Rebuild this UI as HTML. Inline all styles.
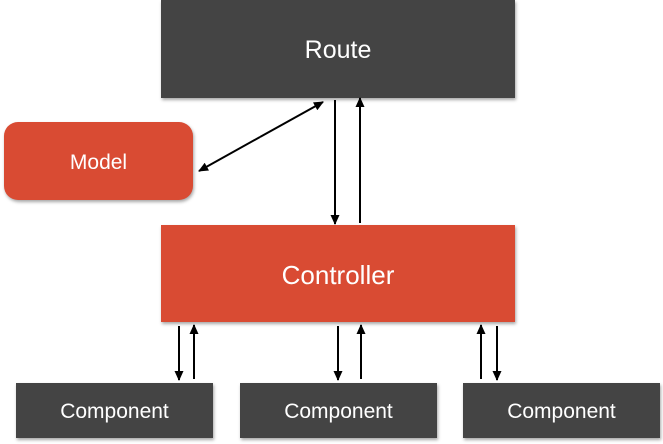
<!DOCTYPE html>
<html><head><style>
body{margin:0;width:663px;height:444px;background:#fff;overflow:hidden;position:relative;font-family:"Liberation Sans",sans-serif}
.b{position:absolute;color:#fff;display:flex;align-items:center;justify-content:center;box-shadow:1px 2px 3px rgba(0,0,0,.35);padding-top:3px;box-sizing:border-box}
.d{background:#444}.r{background:#d94b33}
</style></head><body>
<div class="b d" style="left:161px;top:0;width:354px;height:98px;font-size:25px">Route</div>
<div class="b r" style="left:4px;top:122px;width:189px;height:78px;border-radius:14px;font-size:21px">Model</div>
<div class="b r" style="left:161px;top:225px;width:354px;height:97px;font-size:26px">Controller</div>
<div class="b d" style="left:16px;top:383px;width:197px;height:55px;font-size:21px">Component</div>
<div class="b d" style="left:240px;top:383px;width:197px;height:55px;font-size:21px">Component</div>
<div class="b d" style="left:463px;top:383px;width:197px;height:55px;font-size:21px">Component</div>
<svg width="663" height="444" style="position:absolute;left:0;top:0">
<defs><marker id="a" markerWidth="10" markerHeight="10" refX="9" refY="4.5" orient="auto" markerUnits="userSpaceOnUse"><path d="M0,0L10,4.5L0,9z" fill="#000"/></marker></defs>
<g stroke="#000" stroke-width="2" marker-end="url(#a)">
<line x1="335" y1="100" x2="335" y2="224"/>
<line x1="360" y1="223" x2="360" y2="98"/>
<line x1="260" y1="137" x2="199" y2="171"/>
<line x1="260" y1="137" x2="323" y2="102"/>
<line x1="179" y1="326" x2="179" y2="380"/>
<line x1="194" y1="379" x2="194" y2="325"/>
<line x1="338" y1="326" x2="338" y2="380"/>
<line x1="361" y1="379" x2="361" y2="325"/>
<line x1="481" y1="379" x2="481" y2="325"/>
<line x1="497" y1="326" x2="497" y2="380"/>
</g></svg>
</body></html>
